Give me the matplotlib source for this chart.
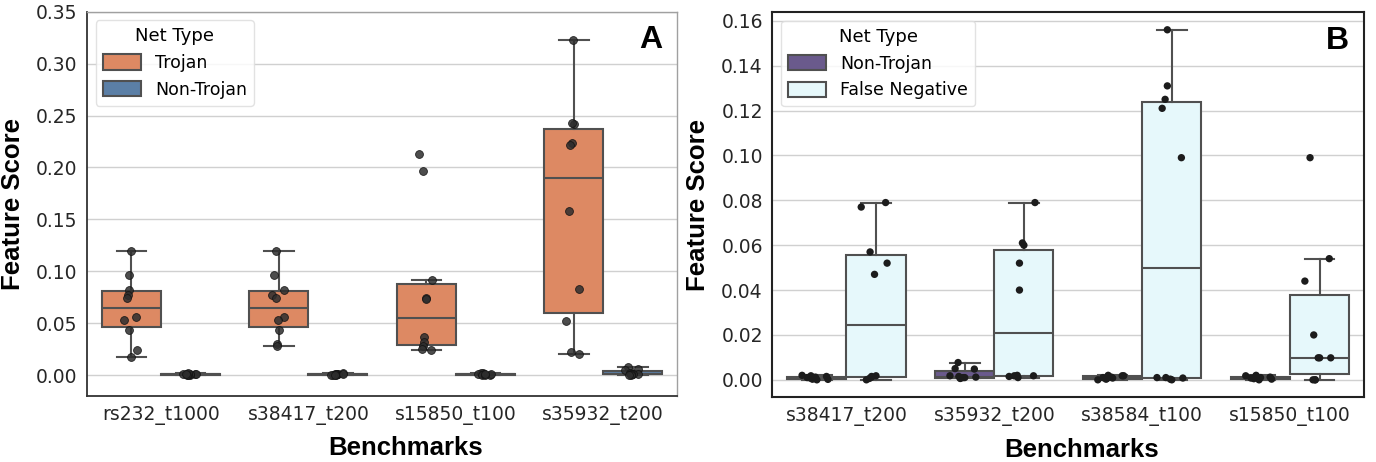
import matplotlib
matplotlib.use("Agg")
import matplotlib.pyplot as plt
from matplotlib.patches import Patch

# ---- panel A data ----
benchmarks_a = ["rs232_t1000", "s38417_t200", "s15850_t100", "s35932_t200"]
labels_a = ["Trojan", "Non-Trojan"]
trojan_a = [
    [0.120, 0.096, 0.082, 0.077, 0.074, 0.056, 0.053, 0.044, 0.024, 0.018],
    [0.120, 0.096, 0.082, 0.077, 0.074, 0.056, 0.053, 0.044, 0.030, 0.028],
    [0.213, 0.197, 0.092, 0.074, 0.073, 0.037, 0.032, 0.028, 0.025, 0.024],
    [0.323, 0.242, 0.2425, 0.224, 0.222, 0.158, 0.083, 0.052, 0.022, 0.020],
]
nontrojan_a = [
    [0.0015, 0.001, 0.0008, 0.0012, 0.0005, 0.001, 0.0003, 0.0018, 0.0, 0.0012],
    [0.002, 0.001, 0.0008, 0.0015, 0.0005, 0.001, 0.0002, 0.0012, 0.0, 0.0006],
    [0.002, 0.0012, 0.0008, 0.0018, 0.0005, 0.001, 0.0003, 0.0015, 0.0, 0.0016],
    [0.0083, 0.006, 0.0052, 0.002, 0.0015, 0.001, 0.001, 0.0008, 0.0005, 0.0],
]

# ---- panel B data ----
benchmarks_b = ["s38417_t200", "s35932_t200", "s38584_t100", "s15850_t100"]
labels_b = ["Non-Trojan", "False Negative"]
nontrojan_b = [
    [0.0, 0.0003, 0.0005, 0.0008, 0.001, 0.0015, 0.002, 0.0018, 0.0002, 0.0012],
    [0.0077, 0.005, 0.0048, 0.0018, 0.0015, 0.0012, 0.001, 0.001, 0.0008, 0.0006],
    [0.0, 0.0005, 0.0018, 0.0012, 0.0008, 0.0015, 0.002, 0.0003, 0.001, 0.0018],
    [0.0, 0.001, 0.0015, 0.002, 0.0005, 0.0008, 0.0012, 0.0018, 0.001, 0.0003],
]
falseneg_b = [
    [0.079, 0.077, 0.057, 0.052, 0.047, 0.0018, 0.0015, 0.0012, 0.0006, 0.0],
    [0.079, 0.061, 0.060, 0.052, 0.040, 0.002, 0.0018, 0.0018, 0.0015, 0.001],
    [0.156, 0.131, 0.125, 0.121, 0.099, 0.001, 0.001, 0.0008, 0.0003, 0.0],
    [0.099, 0.054, 0.044, 0.020, 0.0098, 0.0098, 0.0098, 0.0, 0.0, 0.0],
]

# jitter pattern (fraction of the jitter half-width), reused for every group
jitter = [0.0, -0.3, -0.3, -0.45, -0.65, 0.65, -1.0, -0.4, 0.75, -0.1]

BOX_EDGE = "#505050"


def draw_panel(ax, cats, groups, colors, pt_style, jit_w):
    for h, (series, color) in enumerate(zip(groups, colors)):
        off = -0.2 + 0.4 * h
        pos = [i + off for i in range(len(cats))]
        ax.boxplot(series, positions=pos, widths=0.4, patch_artist=True,
                   showfliers=False, whis=1.5,
                   boxprops=dict(facecolor=color, edgecolor=BOX_EDGE, linewidth=1.5),
                   medianprops=dict(color=BOX_EDGE, linewidth=1.5),
                   whiskerprops=dict(color=BOX_EDGE, linewidth=1.5),
                   capprops=dict(color=BOX_EDGE, linewidth=1.5),
                   zorder=2)
        for i, vals in enumerate(series):
            xs = [pos[i] + jit_w * jitter[(k + 3 * i + 5 * h) % len(jitter)]
                  for k in range(len(vals))]
            ax.scatter(xs, vals, zorder=3, **pt_style)
    ax.set_xticks(range(len(cats)))
    ax.set_xticklabels(cats)
    ax.set_xlim(-0.5, len(cats) - 0.5)
    ax.grid(axis="y", color="#d0d0d0", linewidth=1)
    ax.set_axisbelow(True)
    ax.tick_params(length=0, labelsize=13.5, colors="#262626", pad=7)
    ax.set_xlabel("Benchmarks", fontsize=18.5, fontweight="bold",
                  family="Liberation Sans")
    ax.set_ylabel("Feature Score", fontsize=18.5, fontweight="bold",
                  family="Liberation Sans", labelpad=8)


fig = plt.figure(figsize=(13.76, 4.62), dpi=100)
axA = fig.add_axes([0.0634, 0.1429, 0.4286, 0.8318])
axB = fig.add_axes([0.5614, 0.1400, 0.4299, 0.8334])

colors_a = ["#DD8963", "#5B7FA6"]
colors_b = ["#6A5A8C", "#E6F8FB"]

draw_panel(axA, benchmarks_a, [trojan_a, nontrojan_a], colors_a,
           dict(s=32, c="#2e2e2e", alpha=0.85, edgecolors="#111111", linewidths=0.6),
           0.05)
draw_panel(axB, benchmarks_b, [nontrojan_b, falseneg_b], colors_b,
           dict(s=28, c="#1c1c1c", edgecolors="none"), 0.1)

axA.set_ylim(-0.02, 0.35)
axA.set_yticks([0.0, 0.05, 0.10, 0.15, 0.20, 0.25, 0.30, 0.35])
axA.set_yticklabels(["%.2f" % v for v in axA.get_yticks()])
axB.set_ylim(-0.0078, 0.1638)
axB.set_yticks([0.0, 0.02, 0.04, 0.06, 0.08, 0.10, 0.12, 0.14, 0.16])
axB.set_yticklabels(["%.2f" % v for v in axB.get_yticks()])

axA.xaxis.set_label_coords(0.54, -0.105)
axB.xaxis.set_label_coords(0.523, -0.105)

for side in ["left", "bottom"]:
    axA.spines[side].set_color("#333333")
    axA.spines[side].set_linewidth(1.3)
for side in ["top", "right"]:
    axA.spines[side].set_color("#a0a0a0")
    axA.spines[side].set_linewidth(1.0)
for side in axB.spines:
    axB.spines[side].set_color("#222222")
    axB.spines[side].set_linewidth(1.5)

for ax, labels, colors, tag in [(axA, labels_a, colors_a, "A"),
                                (axB, labels_b, colors_b, "B")]:
    handles = [Patch(facecolor=c, edgecolor=BOX_EDGE, linewidth=1.5, label=l)
               for l, c in zip(labels, colors)]
    leg = ax.legend(handles=handles, title="Net Type", loc="upper left",
                    fontsize=12.5, title_fontsize=13, frameon=True,
                    borderaxespad=0.5, handlelength=2.2, handleheight=1.0)
    leg.get_frame().set_edgecolor("#dddddd")
    leg.get_frame().set_alpha(0.85)
    ax.text(0.975, 0.965, tag, transform=ax.transAxes, ha="right", va="top",
            fontsize=23, fontweight="bold", family="Liberation Sans")

fig.savefig("out.png", dpi=100)
